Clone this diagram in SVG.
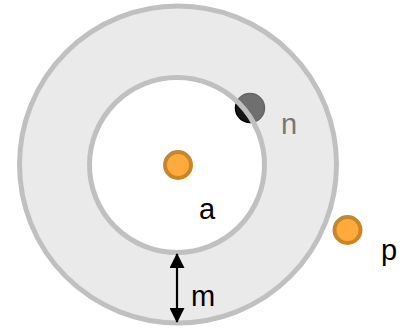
<svg xmlns="http://www.w3.org/2000/svg" width="406" height="328" viewBox="0 0 406 328">
  <style>
    .ring-stroke { fill: none; stroke: #c0c0c0; stroke-width: 5; }
    .dot { fill: #ffaa3c; stroke: #c8862a; stroke-width: 4; }
    .lbl { font-family: "Liberation Sans", Arial, sans-serif; font-size: 29px; fill: #000; }
    .conn { stroke: #000; stroke-width: 2.2; fill: none; }
  </style>
  <defs>
    <marker id="ah" viewBox="0 0 15 15" refX="14" refY="7.5" markerWidth="15" markerHeight="15" markerUnits="userSpaceOnUse" orient="auto-start-reverse">
      <path d="M0,0 L15,7.5 L0,15 Z" fill="#000"/>
    </marker>
  </defs>
  <rect width="406" height="328" fill="#fff"/>

  <g id="n">
    <circle cx="250" cy="108" r="14.5" fill="#151515" stroke="#000" stroke-width="1.5"/>
  </g>

  <g id="ring">
    <path d="M178,6 A158.5,158.5 0 1,1 177.99,6 Z M177,77.5 A87.5,87.5 0 1,0 177.01,77.5 Z" fill="#d4d4d4" fill-opacity="0.48" fill-rule="evenodd"/>
    <circle class="ring-stroke" cx="178" cy="164.5" r="158.5"/>
    <circle class="ring-stroke" cx="177" cy="165" r="87.5"/>
  </g>

  <g id="n-label">
    <text class="lbl" x="281" y="134" style="fill:#777">n</text>
  </g>

  <g id="a">
    <circle class="dot" cx="178" cy="165" r="13"/>
    <text class="lbl" x="199" y="219">a</text>
  </g>

  <g id="p">
    <circle class="dot" cx="347.5" cy="230" r="13"/>
    <text class="lbl" x="381" y="260">p</text>
  </g>

  <g id="connectors">
    <line class="conn" x1="177" y1="254" x2="177" y2="322" marker-start="url(#ah)" marker-end="url(#ah)"/>
    <text class="lbl" x="191" y="306">m</text>
  </g>
</svg>
